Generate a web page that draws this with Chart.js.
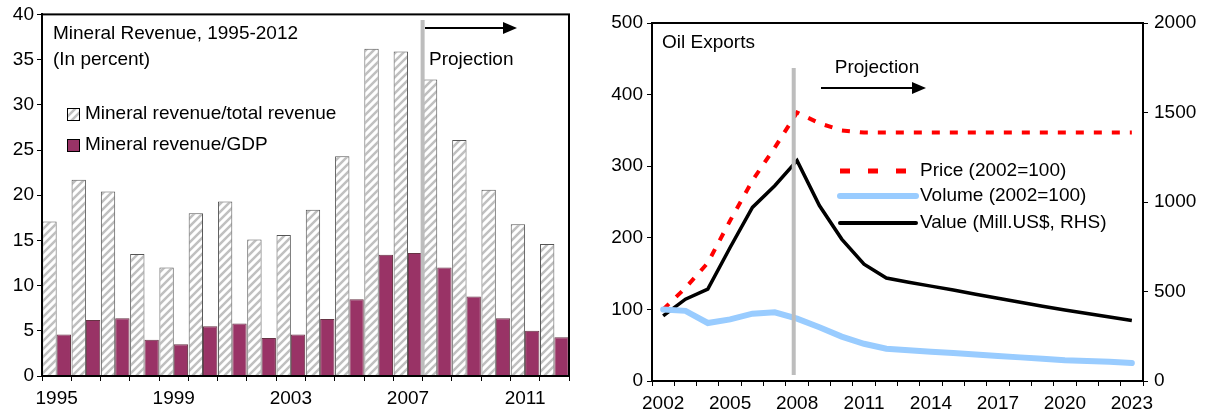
<!DOCTYPE html>
<html><head><meta charset="utf-8">
<script src="https://cdn.jsdelivr.net/npm/chart.js@4"></script>
<style>
body{margin:0;background:#fff;width:1209px;height:419px;position:relative;overflow:hidden}
#c1{position:absolute;left:0;top:0}
#c2{position:absolute;left:600px;top:0}
</style></head><body>
<canvas id="c1" width="600" height="419"></canvas>
<canvas id="c2" width="609" height="419"></canvas>
<script>
// left chart data
const mineralYears = ["1995","1996","1997","1998","1999","2000","2001","2002","2003","2004","2005","2006","2007","2008","2009","2010","2011","2012"];
const revenueShare = [17.1,21.7,20.4,13.5,12.0,18.0,19.3,15.1,15.6,18.4,24.3,36.2,35.9,32.8,26.1,20.6,16.8,14.6];
const revenueGdp = [4.6,6.2,6.4,4.0,3.5,5.5,5.8,4.2,4.6,6.3,8.5,13.4,13.6,12.0,8.8,6.4,5.0,4.3];

// right chart data
const oilYears = ["2002","2003","2004","2005","2006","2007","2008","2009","2010","2011","2012","2013","2014","2015","2016","2017","2018","2019","2020","2021","2022","2023"];
const oilPrice = [100,130,165,224,280,326,375,360,350,347,347,347,347,347,347,347,347,347,347,347,347,347];
const oilVolume = [100,98,81,86,94,96,87,75,62,52,45,43,41,39,37,35,33,31,29,28,27,25];
const oilValue = [364,457,513,746,970,1091,1231,980,793,653,575,552,530,508,485,462,440,418,397,377,357,338];

const FONT = 'Liberation Sans, Arial, sans-serif';
Chart.defaults.font.family = FONT;
Chart.defaults.font.size = 19;
Chart.defaults.color = '#000';
Chart.defaults.animation = false;

function hatch() {
  const p = document.createElement('canvas');
  p.width = 8; p.height = 8;
  const g = p.getContext('2d');
  g.fillStyle = '#fff'; g.fillRect(0,0,8,8);
  g.strokeStyle = '#c0c0c0'; g.lineWidth = 2.5;
  g.beginPath();
  g.moveTo(0,8); g.lineTo(8,0);
  g.moveTo(-2,2); g.lineTo(2,-2);
  g.moveTo(6,10); g.lineTo(10,6);
  g.stroke();
  return document.getElementById('c1').getContext('2d').createPattern(p,'repeat');
}
const hatchFill = hatch();

function arrow(ctx, x1, x2, y) {
  ctx.save();
  ctx.strokeStyle = '#000'; ctx.fillStyle = '#000'; ctx.lineWidth = 2;
  ctx.beginPath(); ctx.moveTo(x1,y); ctx.lineTo(x2-12,y); ctx.stroke();
  ctx.beginPath(); ctx.moveTo(x2,y); ctx.lineTo(x2-14,y-6); ctx.lineTo(x2-14,y+6); ctx.closePath(); ctx.fill();
  ctx.restore();
}

const frame = {
  id: 'frame',
  afterDraw(chart) {
    const a = chart.chartArea, ctx = chart.ctx;
    ctx.save(); ctx.strokeStyle = '#000'; ctx.lineWidth = 2;
    ctx.strokeRect(a.left, a.top, a.right - a.left, a.bottom - a.top);
    ctx.restore();
  }
};

const leftDeco = {
  id: 'leftDeco',
  afterDatasetsDraw(chart) {
    const ctx = chart.ctx, x = chart.scales.x, a = chart.chartArea;
    ctx.save();
    const gx = x.getPixelForValue(12.5);
    ctx.fillStyle = '#bdbdbd'; ctx.fillRect(gx - 2, 20, 4, a.bottom - 20);
    ctx.fillStyle = '#000'; ctx.font = '19px ' + FONT; ctx.textBaseline = 'middle';
    ctx.fillText('Mineral Revenue, 1995-2012', 53, 34);
    ctx.fillText('(In percent)', 53, 60);
    ctx.fillText('Projection', 429, 60);
    ctx.fillText('Mineral revenue/total revenue', 85, 114);
    ctx.fillText('Mineral revenue/GDP', 85, 145);
    ctx.fillStyle = hatchFill; ctx.fillRect(67,108,12,12);
    ctx.strokeStyle = '#000'; ctx.lineWidth = 1; ctx.strokeRect(67.5,108.5,12,12);
    ctx.fillStyle = '#993366'; ctx.fillRect(67,139,12,12);
    ctx.strokeRect(67.5,139.5,12,12);
    arrow(ctx, 425, 517, 28);
    ctx.restore();
  }
};

new Chart(document.getElementById('c1'), {
  type: 'bar',
  data: {
    labels: mineralYears,
    datasets: [
      { data: revenueShare, backgroundColor: hatchFill, borderColor: '#555', borderWidth: 1, categoryPercentage: 0.98, barPercentage: 1 },
      { data: revenueGdp, backgroundColor: '#993366', borderColor: '#663344', borderWidth: 1, categoryPercentage: 0.98, barPercentage: 1 }
    ]
  },
  plugins: [frame, leftDeco],
  options: {
    responsive: false,
    layout: { padding: { top: 14, right: 31 } },
    plugins: { legend: { display: false }, tooltip: { enabled: false } },
    scales: {
      x: {
        afterFit(s) { s.height = 43; },
        grid: { display: true, drawOnChartArea: false, offset: true, color: '#000', tickLength: 5 },
        border: { color: '#000', width: 2 },
        ticks: { autoSkip: false, maxRotation: 0, padding: 6,
          callback(v, i) { return i % 4 === 0 ? mineralYears[i] : ''; } }
      },
      y: {
        min: 0, max: 40,
        afterFit(s) { s.width = 42; },
        grid: { display: true, drawOnChartArea: false, color: '#000', tickLength: 5 },
        border: { color: '#000', width: 2 },
        ticks: { stepSize: 5, padding: 3 }
      }
    }
  }
});

const rightDeco = {
  id: 'rightDeco',
  afterDatasetsDraw(chart) {
    const ctx = chart.ctx, x = chart.scales.x;
    ctx.save();
    const gx = x.getPixelForValue(5.85);
    ctx.fillStyle = '#bdbdbd'; ctx.fillRect(gx - 2, 68, 4, 307);
    ctx.fillStyle = '#000'; ctx.font = '19px ' + FONT; ctx.textBaseline = 'middle';
    ctx.fillText('Oil Exports', 62, 43);
    ctx.textAlign = 'center'; ctx.fillText('Projection', 277, 68); ctx.textAlign = 'left';
    arrow(ctx, 221, 326, 88);
    ctx.fillText('Price (2002=100)', 320, 171);
    ctx.fillText('Volume (2002=100)', 320, 196);
    ctx.fillText('Value (Mill.US$, RHS)', 320, 223);
    ctx.lineCap = 'butt';
    ctx.strokeStyle = '#ff0000'; ctx.lineWidth = 5; ctx.setLineDash([10,18]);
    ctx.beginPath(); ctx.moveTo(240,171); ctx.lineTo(318,171); ctx.stroke();
    ctx.setLineDash([]); ctx.lineCap = 'round';
    ctx.strokeStyle = '#99ccff'; ctx.lineWidth = 6;
    ctx.beginPath(); ctx.moveTo(240,196); ctx.lineTo(316,196); ctx.stroke();
    ctx.strokeStyle = '#000'; ctx.lineWidth = 4;
    ctx.beginPath(); ctx.moveTo(240,223); ctx.lineTo(316,223); ctx.stroke();
    ctx.restore();
  }
};

new Chart(document.getElementById('c2'), {
  type: 'line',
  data: {
    labels: oilYears,
    datasets: [
      { data: oilVolume, borderColor: '#99ccff', borderWidth: 6, pointRadius: 0, tension: 0, yAxisID: 'y', borderCapStyle: 'round' },
      { data: oilPrice, borderColor: '#ff0000', borderWidth: 4, borderDash: [8,10], pointRadius: 0, tension: 0, yAxisID: 'y' },
      { data: oilValue, borderColor: '#000', borderWidth: 3.5, pointRadius: 0, tension: 0, yAxisID: 'y2' }
    ]
  },
  plugins: [frame, rightDeco],
  options: {
    responsive: false,
    layout: { padding: { top: 23 } },
    plugins: { legend: { display: false }, tooltip: { enabled: false } },
    scales: {
      x: {
        offset: true,
        afterFit(s) { s.height = 38; },
        grid: { display: true, drawOnChartArea: false, offset: true, color: '#000', tickLength: 5 },
        border: { color: '#000', width: 2 },
        ticks: { autoSkip: false, maxRotation: 0, padding: 6,
          callback(v, i) { return i % 3 === 0 ? oilYears[i] : ''; } }
      },
      y: {
        position: 'left', min: 0, max: 500,
        afterFit(s) { s.width = 52; },
        grid: { display: true, drawOnChartArea: false, color: '#000', tickLength: 5 },
        border: { color: '#000', width: 2 },
        ticks: { stepSize: 100, padding: 4 }
      },
      y2: {
        position: 'right', min: 0, max: 2000,
        afterFit(s) { s.width = 66; },
        grid: { display: true, drawOnChartArea: false, color: '#000', tickLength: 5 },
        border: { color: '#000', width: 2 },
        ticks: { stepSize: 500, padding: 6, callback(v) { return String(v); } }
      }
    }
  }
});
</script>
</body></html>
